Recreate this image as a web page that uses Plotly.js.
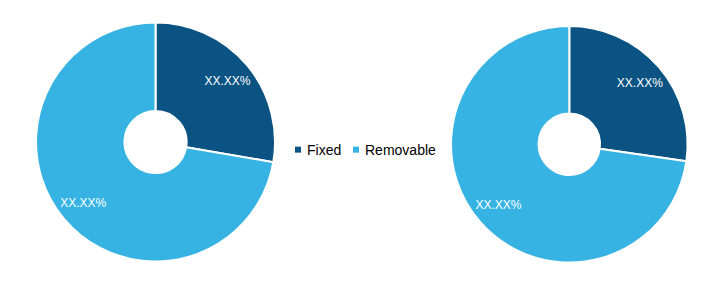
<!DOCTYPE html>
<html>
<head>
<meta charset="utf-8">
<script src="https://cdn.plot.ly/plotly-3.0.1.min.js"></script>
<style>html,body{margin:0;padding:0;background:#fff;}#chart{width:719px;height:281px;}</style>
</head>
<body>
<div id="chart"></div>
<script>
// Data
var categories = ["Fixed", "Removable"];
var leftValues = [27.7, 72.3];
var rightValues = [27.3, 72.7];
var sliceLabels = ["XX.XX%", "XX.XX%"];
var colors = ["#0b5383", "#36b3e3"];
var legendIds = ["legend", "legend2"];

var labelFont = {family: "Liberation Sans, Arial, sans-serif", size: 12, color: "#ffffff"};

function pieTrace(values, dx, dy) {
  return {
    type: "pie",
    labels: categories,
    values: values,
    textinfo: "none",
    hole: 0.26,
    sort: false,
    direction: "clockwise",
    rotation: 0,
    marker: {colors: colors, line: {color: "#ffffff", width: 2}},
    domain: {x: dx, y: dy},
    showlegend: false,
    hoverinfo: "none"
  };
}
function labelTrace(values, dx, dy) {
  return {
    type: "pie",
    labels: categories,
    values: values,
    text: sliceLabels,
    textinfo: "text",
    textposition: "inside",
    insidetextorientation: "horizontal",
    insidetextfont: labelFont,
    hole: 0.58,
    sort: false,
    direction: "clockwise",
    rotation: 0,
    marker: {colors: ["rgba(0,0,0,0)", "rgba(0,0,0,0)"], line: {width: 0}},
    domain: {x: dx, y: dy},
    showlegend: false,
    hoverinfo: "none"
  };
}

var leftDom = [[0.0501, 0.3825], [0.0694, 0.92]];
var rightDom = [[0.6273, 0.9563], [0.0655, 0.9075]];

var traces = [
  pieTrace(leftValues, leftDom[0], leftDom[1]),
  pieTrace(rightValues, rightDom[0], rightDom[1]),
  labelTrace(leftValues, leftDom[0], leftDom[1]),
  labelTrace(rightValues, rightDom[0], rightDom[1])
];

categories.forEach(function (c, i) {
  traces.push({
    type: "scatter", mode: "markers", x: [null], y: [null], name: c,
    legend: legendIds[i],
    marker: {symbol: "square", size: 6, color: colors[i]},
    showlegend: true, hoverinfo: "none"
  });
});

function legendCfg(xpx) {
  return {
    orientation: "h", x: xpx / 719, xanchor: "left", y: 0.466, yanchor: "middle",
    font: {family: "Liberation Sans, Arial, sans-serif", size: 14, color: "#000000"},
    bgcolor: "rgba(0,0,0,0)", itemclick: false, itemdoubleclick: false
  };
}

var layout = {
  width: 719, height: 281,
  margin: {l: 0, r: 0, t: 0, b: 0},
  paper_bgcolor: "#ffffff", plot_bgcolor: "rgba(0,0,0,0)",
  xaxis: {visible: false}, yaxis: {visible: false},
  showlegend: true,
  legend: legendCfg(267),
  legend2: legendCfg(325)
};

Plotly.newPlot("chart", traces, layout, {staticPlot: true, displayModeBar: false}).then(function (gd) {
  var pts = gd.querySelectorAll(".legendpoints");
  pts.forEach(function (p) { p.setAttribute("transform", "translate(11,0)"); });
});
</script>
</body>
</html>
